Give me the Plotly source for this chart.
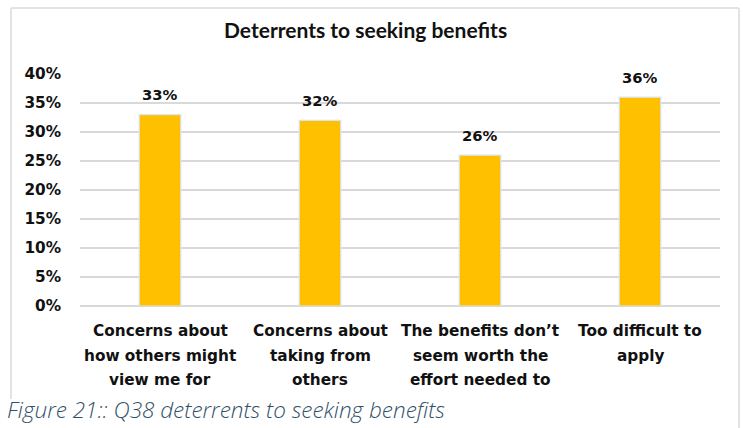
import plotly.graph_objects as go

# Survey results: share of respondents citing each deterrent
categories = [
    "Concerns about how others might view me for",
    "Concerns about taking from others",
    "The benefits don\u2019t seem worth the effort needed to",
    "Too difficult to apply",
]
label_lines = [
    ["Concerns about", "how others might", "view me for"],
    ["Concerns about", "taking from", "others"],
    ["The benefits don\u2019t", "seem worth the", "effort needed to"],
    ["Too difficult to", "apply"],
]
values = [0.33, 0.32, 0.26, 0.36]
tick_vals = [0, 0.05, 0.10, 0.15, 0.20, 0.25, 0.30, 0.35, 0.40]
tick_text = ["0%", "5%", "10%", "15%", "20%", "25%", "30%", "35%", "40%"]

W, H = 743, 428
L, R, T, B = 80, 23, 74, 122
plot_w = W - L - R
plot_h = H - T - B

def px_x(x):
    return (x - L) / plot_w

def px_y(y):
    return (H - B - y) / plot_h

BOLD = "'DejaVu Sans', sans-serif"
LABEL_FONT = dict(family=BOLD, size=15.3, color="#111111", weight=700)
VALUE_FONT = dict(family=BOLD, size=14.8, color="#111111", weight=700)

fig = go.Figure()
fig.add_trace(go.Bar(
    x=categories,
    y=values,
    width=0.26,
    marker=dict(color="#FFC000", line=dict(color="#DCE3EE", width=1.2)),
    hoverinfo="skip",
))

# value labels above each bar
for cat, v in zip(categories, values):
    fig.add_annotation(
        x=cat, y=v, xref="x", yref="y",
        text=f"{round(v * 100)}%", showarrow=False, font=VALUE_FONT,
        xanchor="center", yanchor="middle", yshift=20,
    )

# category labels, one annotation per line for wider line spacing
for cat, lines in zip(categories, label_lines):
    for i, line in enumerate(lines):
        fig.add_annotation(
            x=cat, xref="x", y=px_y(331 + 24.5 * i), yref="paper",
            text=line, showarrow=False, font=LABEL_FONT,
            xanchor="center", yanchor="middle",
        )

# chart frame
frame = dict(color="#E3E3E3", width=2)
fig.add_shape(type="line", xref="paper", yref="paper",
              x0=px_x(11), x1=px_x(739), y0=px_y(8), y1=px_y(8), line=frame)
fig.add_shape(type="line", xref="paper", yref="paper",
              x0=px_x(11), x1=px_x(11), y0=px_y(8), y1=px_y(399), line=frame)
fig.add_shape(type="line", xref="paper", yref="paper",
              x0=px_x(739), x1=px_x(739), y0=px_y(8), y1=px_y(428), line=frame)

fig.add_annotation(
    x=px_x(365), y=px_y(29), xref="paper", yref="paper",
    text="Deterrents to seeking benefits", showarrow=False,
    font=dict(family="Lato, 'Liberation Sans', sans-serif", size=21, color="#111111", weight=700),
    xanchor="center", yanchor="middle",
)

fig.add_annotation(
    x=px_x(5), y=px_y(427), xref="paper", yref="paper",
    text="<i>Figure 21:: Q38 deterrents to seeking benefits</i>", showarrow=False,
    font=dict(family="'Open Sans', 'Noto Sans', sans-serif", size=22.5, color="#2F5069", weight=300),
    xanchor="left", yanchor="bottom",
)

fig.update_layout(
    width=W, height=H,
    margin=dict(l=L, r=R, t=T, b=B),
    paper_bgcolor="white",
    plot_bgcolor="white",
    showlegend=False,
)
fig.update_xaxes(showticklabels=False, showgrid=False, zeroline=False,
                 showline=False, ticks="")
fig.update_yaxes(
    range=[0, 0.40], tickvals=tick_vals, ticktext=tick_text,
    showgrid=True, gridcolor="#D9D9D9", gridwidth=1.5,
    zeroline=True, zerolinecolor="#D9D9D9", zerolinewidth=1.5,
    tickfont=LABEL_FONT, ticks="", ticklabelstandoff=18,
)

fig.write_html("out.html")
